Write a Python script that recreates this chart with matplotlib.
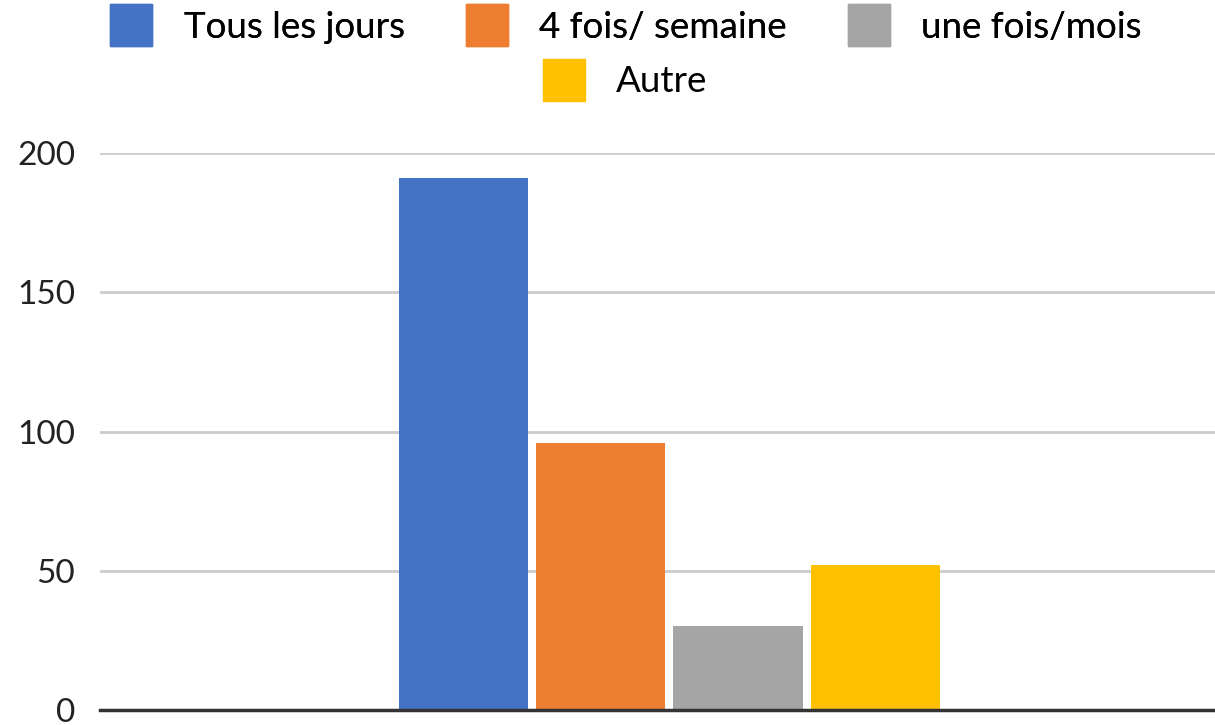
import matplotlib.pyplot as plt
from matplotlib.lines import Line2D

# données
categories = ["Tous les jours", "4 fois/ semaine", "une fois/mois", "Autre"]
values = [191, 96, 30, 52]
colors = ["#4472C4", "#ED7D31", "#A5A5A5", "#FFC000"]
yticks = [0, 50, 100, 150, 200]

plt.rcParams['font.family'] = ['Lato', 'DejaVu Sans']

fig = plt.figure(figsize=(12.15, 7.25), dpi=100)
ax = fig.add_axes([100 / 1215, 15 / 725, 1115 / 1215, 557 / 725])

step = 0.2
width = step * 129 / 137
for i, (cat, val, col) in enumerate(zip(categories, values, colors)):
    ax.bar((i - 1.5) * step, val, width=width, color=col, label=cat, zorder=3)

ax.set_xlim(-0.831, 0.796)
ax.set_ylim(0, 200)
ax.set_yticks(yticks)
ax.set_xticks([])
ax.tick_params(axis='y', length=0, labelsize=24, pad=18, labelcolor='#222222')
ax.grid(axis='y', color='#cccccc', linewidth=2, zorder=0)
for s in ['top', 'right', 'left']:
    ax.spines[s].set_visible(False)
ax.spines['bottom'].set_color('#333333')
ax.spines['bottom'].set_linewidth(2.5)
ax.spines['bottom'].set_zorder(4)

# légende sur deux lignes, centrée
handles = [Line2D([], [], marker='s', markersize=30, linestyle='none', color=c) for c in colors]
leg1 = fig.legend(handles[:3], categories[:3], loc='center', ncol=3,
                  bbox_to_anchor=(626 / 1215, 1 - 27 / 725), frameon=False,
                  fontsize=26.5, handletextpad=0.85, columnspacing=1.65, handlelength=1.15)
leg2 = fig.legend(handles[3:], categories[3:], loc='center', ncol=1,
                  bbox_to_anchor=(625 / 1215, 1 - 82 / 725), frameon=False,
                  fontsize=26.5, handletextpad=0.85, handlelength=1.15)
fig.add_artist(leg1)

plt.savefig('out.png', dpi=100)
